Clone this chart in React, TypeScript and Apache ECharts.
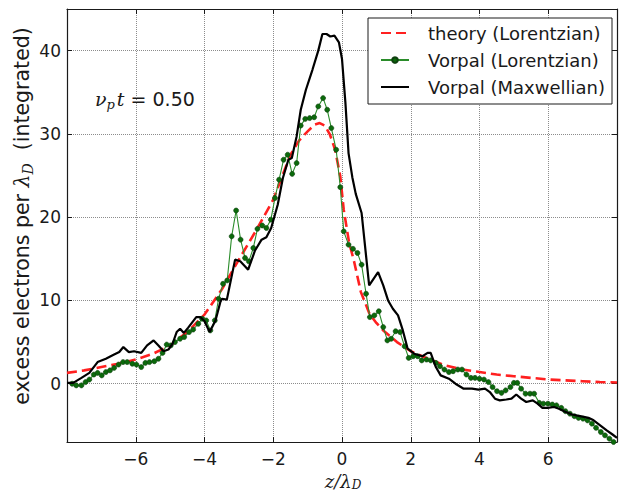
import React, { useEffect, useRef } from "react";
import * as echarts from "echarts";

const seriesNames = ["theory (Lorentzian)", "Vorpal (Lorentzian)", "Vorpal (Maxwellian)"];

const theoryLorentzian: [number, number][] = [
  [-8.0, 1.3], [-7.5, 1.6], [-7.0, 2.0], [-6.5, 2.4], [-6.0, 2.9], [-5.5, 3.6],
  [-5.0, 4.6], [-4.5, 6.2], [-4.0, 8.3], [-3.5, 11.3], [-3.0, 14.9], [-2.5, 18.4],
  [-2.0, 22.1], [-1.75, 24.8], [-1.5, 27.5], [-1.25, 29.2], [-1.0, 30.3], [-0.8, 31.1],
  [-0.65, 31.3], [-0.5, 31.0], [-0.35, 29.9], [-0.2, 28.1], [-0.05, 24.9], [0.05, 20.9],
  [0.2, 17.1], [0.35, 14.7], [0.55, 11.0], [0.8, 8.4], [1.0, 7.3], [1.2, 6.4],
  [1.6, 5.0], [2.0, 3.9], [2.5, 3.0], [3.0, 2.2], [3.5, 1.7], [4.0, 1.4],
  [4.5, 1.1], [5.0, 0.9], [5.5, 0.7], [6.0, 0.5], [6.5, 0.4], [7.0, 0.3],
  [7.5, 0.2], [8.0, 0.15],
];

const vorpalLorentzian: [number, number][] = [
  [-7.85, 0.0], [-7.73, -0.2], [-7.58, -0.2], [-7.46, 0.2], [-7.35, 0.5], [-7.22, 1.1],
  [-7.11, 1.3], [-6.99, 1.0], [-6.87, 1.4], [-6.75, 1.6], [-6.63, 1.9], [-6.5, 2.3],
  [-6.37, 2.6], [-6.25, 2.6], [-6.1, 2.4], [-5.98, 2.3], [-5.84, 2.0], [-5.72, 2.5],
  [-5.6, 2.6], [-5.46, 2.7], [-5.34, 3.0], [-5.22, 3.7], [-5.1, 4.7], [-4.98, 4.6],
  [-4.86, 5.0], [-4.71, 5.4], [-4.59, 5.6], [-4.45, 6.2], [-4.33, 6.5], [-4.18, 7.2],
  [-4.07, 7.8], [-3.95, 7.6], [-3.83, 6.4], [-3.7, 7.6], [-3.59, 10.2], [-3.46, 12.0],
  [-3.34, 12.4], [-3.21, 17.7], [-3.08, 20.8], [-2.95, 17.3], [-2.82, 15.1], [-2.71, 14.7],
  [-2.58, 16.3], [-2.46, 18.6], [-2.32, 19.0], [-2.2, 18.7], [-2.07, 19.7], [-1.95, 22.3],
  [-1.83, 24.5], [-1.7, 26.9], [-1.58, 27.5], [-1.45, 25.2], [-1.32, 26.5], [-1.2, 31.0],
  [-1.07, 31.8], [-0.94, 31.9], [-0.81, 32.0], [-0.69, 33.3], [-0.55, 34.3], [-0.43, 32.9],
  [-0.31, 30.7], [-0.17, 28.1], [-0.05, 23.6], [0.05, 18.3], [0.19, 16.7], [0.32, 16.2],
  [0.45, 15.7], [0.57, 14.3], [0.7, 10.8], [0.81, 8.0], [0.94, 8.2], [1.07, 8.7],
  [1.2, 6.8], [1.32, 5.2], [1.43, 5.4], [1.56, 6.3], [1.69, 6.2], [1.82, 4.5],
  [1.94, 3.1], [2.07, 3.3], [2.2, 3.3], [2.32, 2.8], [2.46, 2.9], [2.58, 2.8],
  [2.73, 2.5], [2.85, 2.1], [2.98, 1.7], [3.11, 1.4], [3.23, 1.5], [3.37, 1.7],
  [3.49, 1.7], [3.62, 1.1], [3.75, 0.7], [3.87, 0.7], [4.0, 0.6], [4.13, 0.5],
  [4.26, 0.2], [4.38, -0.4], [4.51, -0.9], [4.64, -1.1], [4.76, -0.8], [4.9, -0.4],
  [5.0, 0.1], [5.1, 0.1], [5.21, -0.6], [5.34, -1.2], [5.47, -1.2], [5.59, -1.2],
  [5.74, -2.3], [5.86, -2.4], [5.99, -2.4], [6.12, -2.5], [6.24, -2.6], [6.38, -2.9],
  [6.5, -3.3], [6.63, -3.6], [6.76, -3.9], [6.88, -4.1], [7.01, -4.2], [7.14, -4.4],
  [7.27, -4.8], [7.39, -5.3], [7.53, -5.8], [7.65, -6.2], [7.78, -6.6], [7.9, -7.0],
];

const vorpalMaxwellian: [number, number][] = [
  [-8.0, 0.1], [-7.82, 0.1], [-7.58, 0.7], [-7.35, 1.3], [-7.11, 2.6], [-6.87, 3.0],
  [-6.63, 3.5], [-6.48, 3.8], [-6.36, 4.4], [-6.2, 3.8], [-6.05, 3.9], [-5.84, 3.7],
  [-5.67, 4.6], [-5.48, 5.2], [-5.34, 4.6], [-5.19, 3.9], [-5.05, 4.1], [-4.93, 4.8],
  [-4.81, 6.2], [-4.71, 6.6], [-4.6, 6.1], [-4.48, 6.7], [-4.24, 8.0], [-4.12, 8.0],
  [-4.0, 7.5], [-3.85, 6.2], [-3.68, 7.6], [-3.54, 9.8], [-3.49, 10.2], [-3.35, 10.1],
  [-3.11, 14.9], [-2.96, 14.7], [-2.73, 13.7], [-2.53, 16.0], [-2.34, 17.3], [-2.2, 17.6],
  [-2.06, 18.7], [-1.87, 21.5], [-1.72, 24.7], [-1.56, 26.9], [-1.46, 27.1], [-1.32, 29.7],
  [-1.2, 32.9], [-1.05, 35.3], [-0.86, 37.7], [-0.69, 40.0], [-0.57, 42.0], [-0.45, 42.0],
  [-0.34, 41.7], [-0.22, 41.8], [-0.09, 41.0], [0.0, 39.0], [0.1, 33.7], [0.19, 27.7],
  [0.3, 24.8], [0.4, 22.8], [0.57, 20.5], [0.79, 11.8], [1.05, 13.4], [1.2, 11.8],
  [1.34, 10.0], [1.48, 9.0], [1.63, 8.2], [1.77, 6.4], [1.91, 4.2], [2.1, 3.6],
  [2.34, 3.3], [2.49, 3.7], [2.58, 3.7], [2.73, 2.0], [2.87, 1.0], [3.11, 0.6],
  [3.3, 0.0], [3.54, -0.6], [3.78, -0.6], [3.97, -0.7], [4.16, -0.6], [4.3, -1.0],
  [4.45, -1.8], [4.59, -2.0], [4.78, -1.9], [4.93, -1.8], [5.07, -1.3], [5.21, -1.8],
  [5.36, -2.2], [5.55, -2.0], [5.69, -2.4], [5.83, -2.9], [5.98, -2.9], [6.17, -2.8],
  [6.31, -3.0], [6.46, -3.3], [6.69, -3.7], [6.93, -3.9], [7.17, -4.1], [7.32, -4.4],
  [7.51, -5.0], [7.7, -5.6], [7.87, -6.1], [8.0, -6.5],
];

const xMin = -8;
const xMax = 8;
const xInterval = 2;
const yMin = -7;
const yMax = 45;
const yTickStep = 10;

const fmtMinus = (v: number) => (v < 0 ? "\u2212" + Math.abs(v) : String(v));

export default function App() {
  const ref = useRef<HTMLDivElement>(null);
  useEffect(() => {
    const chart = echarts.init(ref.current!, null, { renderer: "svg" });
    const axisColor = "#1a1a1a";
    const font = "DejaVu Sans";
    const mathFont = "DejaVu Serif";
    const axisLine = { show: true, onZero: false, lineStyle: { color: axisColor, width: 1.2 } };
    const axisTick = { show: true, inside: true, length: 5, lineStyle: { color: axisColor, width: 1 } };
    const gridLine = { show: true, lineStyle: { type: "dotted", color: "#8c8c8c", width: 1 } };
    chart.setOption({
      animation: false,
      backgroundColor: "#ffffff",
      grid: { left: 67, right: -4, top: 9, bottom: 51 },
      xAxis: [
        {
          type: "value", min: xMin, max: xMax, interval: xInterval, position: "bottom",
          axisLine, axisTick,
          axisLabel: {
            formatter: (v: number) => (v <= xMin || v >= xMax ? "" : fmtMinus(v)),
            fontSize: 17, fontFamily: font, color: "#1a1a1a", margin: 8, lineHeight: 17,
          },
          splitLine: gridLine,
        },
        {
          type: "value", min: xMin, max: xMax, interval: xInterval, position: "top",
          axisLine, axisTick, axisLabel: { show: false }, splitLine: { show: false },
        },
      ],
      yAxis: [
        {
          type: "value", min: yMin, max: yMax, splitNumber: 5, position: "left",
          axisLine, axisTick,
          axisLabel: {
            formatter: (v: number) => (v % yTickStep === 0 ? fmtMinus(v) : ""),
            fontSize: 17, fontFamily: font, color: "#1a1a1a", margin: 6,
          },
          splitLine: gridLine,
        },
        {
          type: "value", min: yMin, max: yMax, splitNumber: 5, position: "right",
          axisLine, axisTick, axisLabel: { show: false }, splitLine: { show: false },
        },
      ],
      legend: {
        orient: "vertical",
        left: 368,
        top: 18,
        padding: [5, 7, 7, 12],
        itemGap: 7,
        itemWidth: 28,
        itemHeight: 7,
        borderColor: "#1a1a1a",
        borderWidth: 1,
        borderRadius: 0,
        backgroundColor: "#ffffff",
        textStyle: { fontSize: 18, fontFamily: font, color: "#1a1a1a", padding: [0, 0, 0, 14], lineHeight: 20 },
        data: [
          { name: seriesNames[0], itemStyle: { opacity: 0 } },
          { name: seriesNames[1] },
          { name: seriesNames[2], itemStyle: { opacity: 0 } },
        ],
      },
      series: [
        {
          name: seriesNames[0], type: "line", data: theoryLorentzian, symbol: "none",
          lineStyle: { color: "#ff2020", width: 2.6, type: [10, 5] }, itemStyle: { color: "#ff2020" },
          z: 2,
        },
        {
          name: seriesNames[1], type: "line", data: vorpalLorentzian, symbol: "circle", symbolSize: 5,
          lineStyle: { color: "#2a8c2a", width: 1.1 },
          itemStyle: { color: "#0b6a0b", borderColor: "#0f3f0f", borderWidth: 0.6 },
          z: 3,
        },
        {
          name: seriesNames[2], type: "line", data: vorpalMaxwellian, symbol: "none",
          lineStyle: { color: "#000000", width: 2.2 }, itemStyle: { color: "#000000" },
          z: 4,
        },
      ],
      graphic: [
        {
          type: "text", x: 95, y: 99,
          style: {
            text: "{m|\u03bd}{s|p}{m|t}{r| = 0.50}",
            align: "left", verticalAlign: "middle",
            fill: "#1a1a1a",
            rich: {
              m: { fontFamily: mathFont, fontStyle: "italic", fontSize: 19, lineHeight: 24, fill: "#1a1a1a" },
              s: { fontFamily: mathFont, fontStyle: "italic", fontSize: 13, lineHeight: 13, verticalAlign: "bottom", fill: "#1a1a1a", padding: [0, 2, 0, 0] },
              r: { fontFamily: font, fontSize: 19, lineHeight: 24, fill: "#1a1a1a" },
            },
          },
        },
        {
          type: "text", x: 343, y: 481,
          style: {
            text: "{m|z/\u03bb}{s|D}",
            align: "center", verticalAlign: "middle",
            fill: "#1a1a1a",
            rich: {
              m: { fontFamily: mathFont, fontStyle: "italic", fontSize: 18, lineHeight: 20, fill: "#1a1a1a" },
              s: { fontFamily: mathFont, fontStyle: "italic", fontSize: 12, lineHeight: 12, verticalAlign: "bottom", fill: "#1a1a1a" },
            },
          },
        },
        {
          type: "text", x: 22, y: 216, rotation: Math.PI / 2,
          style: {
            text: "{r|excess electrons per }{m|\u03bb}{s|D}{r|  (integrated)}",
            align: "center", verticalAlign: "middle",
            fill: "#1a1a1a",
            rich: {
              r: { fontFamily: font, fontSize: 20.5, lineHeight: 25, fill: "#1a1a1a" },
              m: { fontFamily: mathFont, fontStyle: "italic", fontSize: 20.5, lineHeight: 25, fill: "#1a1a1a" },
              s: { fontFamily: mathFont, fontStyle: "italic", fontSize: 14, lineHeight: 14, verticalAlign: "bottom", fill: "#1a1a1a" },
            },
          },
        },
      ],
    });
    return () => chart.dispose();
  }, []);
  return (
    <div
      ref={ref}
      style={{ position: "fixed", left: 0, top: 0, width: 620, height: 493 }}
    />
  );
}
